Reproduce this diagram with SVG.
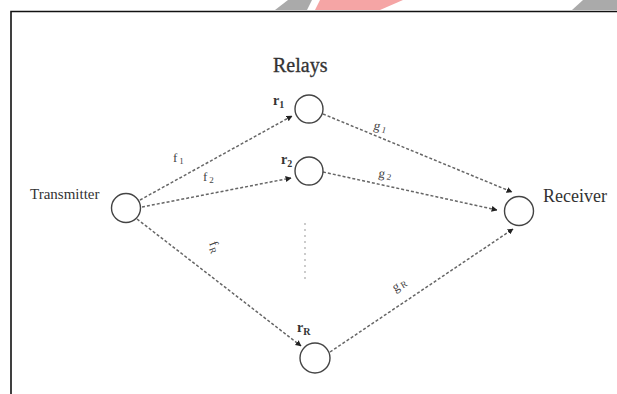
<svg xmlns="http://www.w3.org/2000/svg" width="617" height="394" viewBox="0 0 617 394">
  <defs>
    <marker id="arrow" viewBox="0 0 10 10" refX="9" refY="5" markerWidth="6" markerHeight="6" markerUnits="userSpaceOnUse" orient="auto">
      <path d="M0,0 L10,5 L0,10 z" fill="#222"/>
    </marker>
  </defs>
  <style>
    .node { fill: #fff; stroke: #444; stroke-width: 1.4; }
    .edge { fill: none; stroke: #666; stroke-width: 1.5; stroke-dasharray: 3 2; marker-end: url(#arrow); }
    .dots { fill: none; stroke: #aaa; stroke-width: 1.2; stroke-dasharray: 2 4; }
    .big { font-family: "Liberation Serif", serif; fill: #333; }
    .lbl { font-family: "Liberation Serif", serif; fill: #444; font-size: 13px; }
    .sub { font-size: 9px; }
  </style>

  <rect width="617" height="394" fill="#fff"/>

  <!-- corner stripes -->
  <polygon points="288,0 312,0 307,10 275,10" fill="#aaa"/>
  <polygon points="320,0 403,0 380,10 315,10" fill="#f5a5a5"/>
  <polygon points="583,0 617,0 617,10 572,10" fill="#aaa"/>

  <!-- frame -->
  <path d="M11,394 V11.5 H617" fill="none" stroke="#111" stroke-width="1.6"/>

  <text class="big" x="273" y="72" font-size="20" stroke="#333" stroke-width="0.3">Relays</text>

  <g id="connectors">
    <line class="edge" x1="140" y1="200" x2="292" y2="116"/>
    <line class="edge" x1="142" y1="207" x2="291" y2="178"/>
    <line class="edge" x1="137" y1="219" x2="301" y2="346"/>
    <line class="edge" x1="323" y1="114" x2="512" y2="192"/>
    <line class="edge" x1="323" y1="172" x2="497" y2="210"/>
    <line class="edge" x1="330" y1="352" x2="513" y2="229"/>
    <line class="dots" x1="305" y1="223" x2="305" y2="282"/>
    <text class="lbl" x="173" y="162">f<tspan class="sub" dx="2" dy="2">1</tspan></text>
    <text class="lbl" x="203" y="181">f<tspan class="sub" dx="2" dy="2">2</tspan></text>
    <text class="lbl" transform="translate(209,243) rotate(70)">f<tspan class="sub" dx="1" dy="2">R</tspan></text>
    <text class="lbl" transform="translate(373,129) rotate(15)">g<tspan class="sub" dx="2" dy="1">1</tspan></text>
    <text class="lbl" transform="translate(378,177) rotate(10)">g<tspan class="sub" dx="2" dy="1">2</tspan></text>
    <text class="lbl" transform="translate(395,292) rotate(-30)">g<tspan class="sub" dx="2" dy="1">R</tspan></text>
  </g>

  <g id="transmitter">
    <circle class="node" cx="126" cy="208" r="14.5"/>
    <text class="big" x="30" y="199" font-size="15" fill="#444">Transmitter</text>
  </g>

  <g id="relay-1">
    <circle class="node" cx="309" cy="109" r="14"/>
    <text class="big" x="273" y="105" font-size="14" font-weight="bold">r<tspan font-size="10" dy="3">1</tspan></text>
  </g>

  <g id="relay-2">
    <circle class="node" cx="309" cy="171" r="14"/>
    <text class="big" x="281" y="164" font-size="14" font-weight="bold">r<tspan font-size="10" dy="3">2</tspan></text>
  </g>

  <g id="relay-R">
    <circle class="node" cx="315" cy="358" r="15"/>
    <text class="big" x="297" y="332" font-size="14" font-weight="bold">r<tspan font-size="10" dy="3">R</tspan></text>
  </g>

  <g id="receiver">
    <circle class="node" cx="519" cy="211" r="14.5"/>
    <text class="big" x="543" y="202" font-size="18">Receiver</text>
  </g>
</svg>
